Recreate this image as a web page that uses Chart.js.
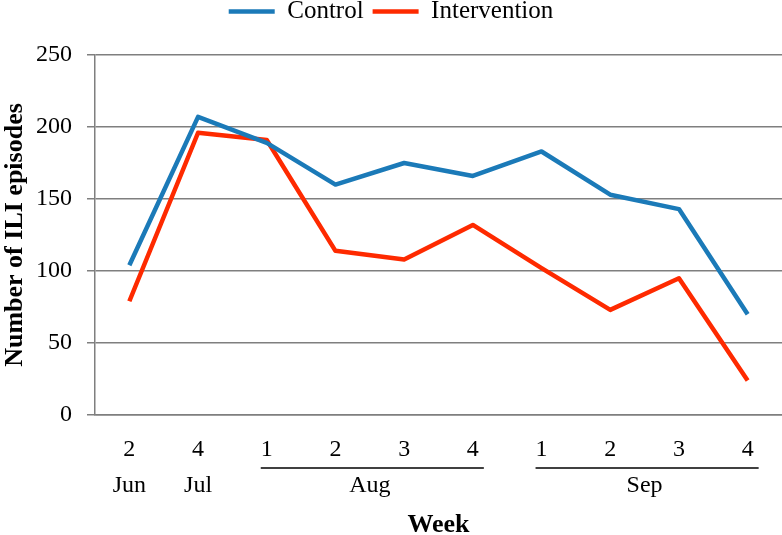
<!DOCTYPE html>
<html>
<head>
<meta charset="utf-8">
<script src="https://cdn.jsdelivr.net/npm/chart.js@4/dist/chart.umd.min.js"></script>
<style>
  html, body { margin: 0; padding: 0; background: #fff; }
  #wrap { width: 782px; height: 535px; }
</style>
</head>
<body>
<div id="wrap"><canvas id="iliChart"></canvas></div>
<script>
// week labels along the x axis
const weeks = ['2', '4', '1', '2', '3', '4', '1', '2', '3', '4'];
// month groups: label, first and last week index
const months = [
    { label: 'Jun', from: 0, to: 0, underline: false },
    { label: 'Jul', from: 1, to: 1, underline: false },
    { label: 'Aug', from: 2, to: 5, underline: true },
    { label: 'Sep', from: 6, to: 9, underline: true }
];
const control = [104, 207, 189, 160, 175, 166, 183, 153, 143, 70];
const intervention = [79, 196, 191, 114, 108, 132, 102, 73, 95, 24];
const yTicks = [0, 50, 100, 150, 200, 250];

const serif = '"Liberation Serif", "Times New Roman", serif';

// draws the month row and the lines under Aug / Sep
const monthRow = {
    id: 'monthRow',
    afterDraw(chart) {
        const x = chart.scales.x;
        const c = chart.ctx;
        c.save();
        c.font = '24px ' + serif;
        c.fillStyle = '#000';
        c.textAlign = 'center';
        c.textBaseline = 'middle';
        months.forEach(m => {
            const a = x.getPixelForValue(m.from);
            const b = x.getPixelForValue(m.to);
            c.fillText(m.label, (a + b) / 2, 486);
            if (m.underline) {
                c.strokeStyle = '#000';
                c.lineWidth = 1.3;
                c.beginPath();
                c.moveTo(a - 6, 468);
                c.lineTo(b + 11, 468);
                c.stroke();
            }
        });
        c.restore();
    }
};

// legend sits tight to the top, fixed block height
const legendFit = {
    id: 'legendFit',
    beforeInit(chart) {
        const orig = chart.legend.fit;
        chart.legend.fit = function() {
            orig.call(this);
            this.height = 65;
        };
    }
};

const ctx = document.getElementById('iliChart').getContext('2d');
new Chart(ctx, {
    type: 'line',
    data: {
        labels: weeks,
        datasets: [
            {
                label: 'Control',
                data: control,
                borderColor: '#1b7ab8',
                backgroundColor: '#1b7ab8',
                borderWidth: 4.5,
                borderJoinStyle: 'round',
                pointRadius: 0,
                tension: 0
            },
            {
                label: 'Intervention',
                data: intervention,
                borderColor: '#fe2a00',
                backgroundColor: '#fe2a00',
                borderWidth: 4.5,
                borderJoinStyle: 'round',
                pointRadius: 0,
                tension: 0
            }
        ]
    },
    options: {
        responsive: true,
        maintainAspectRatio: false,
        animation: false,
        layout: { padding: { top: -10, right: 0, left: 0, bottom: -6 } },
        plugins: {
            legend: {
                position: 'top',
                labels: {
                    usePointStyle: true,
                    pointStyle: 'line',
                    pointStyleWidth: 46,
                    color: '#000',
                    padding: 9,
                    font: { family: serif, size: 25 }
                }
            },
            tooltip: { enabled: false }
        },
        scales: {
            y: {
                min: 0,
                max: 250,
                afterBuildTicks: axis => { axis.ticks = yTicks.map(v => ({ value: v })); },
                afterFit: axis => { axis.width = 95; },
                grid: {
                    color: '#7f7f7f',
                    lineWidth: 1.5,
                    tickLength: 8
                },
                border: { color: '#7f7f7f', width: 1.5 },
                ticks: {
                    color: '#000',
                    padding: 15,
                    font: { family: serif, size: 24 }
                },
                title: {
                    display: true,
                    text: 'Number of ILI episodes',
                    color: '#000',
                    font: { family: serif, size: 26, weight: 'bold' },
                    padding: { top: 0, bottom: 4 }
                }
            },
            x: {
                offset: true,
                grid: { display: false },
                border: { color: '#7f7f7f', width: 1.5 },
                ticks: {
                    color: '#000',
                    padding: 12,
                    font: { family: serif, size: 24 }
                },
                title: {
                    display: true,
                    text: 'Week',
                    color: '#000',
                    font: { family: serif, size: 26, weight: 'bold' },
                    padding: { top: 34, bottom: 0 }
                }
            }
        }
    },
    plugins: [monthRow, legendFit]
});
</script>
</body>
</html>
